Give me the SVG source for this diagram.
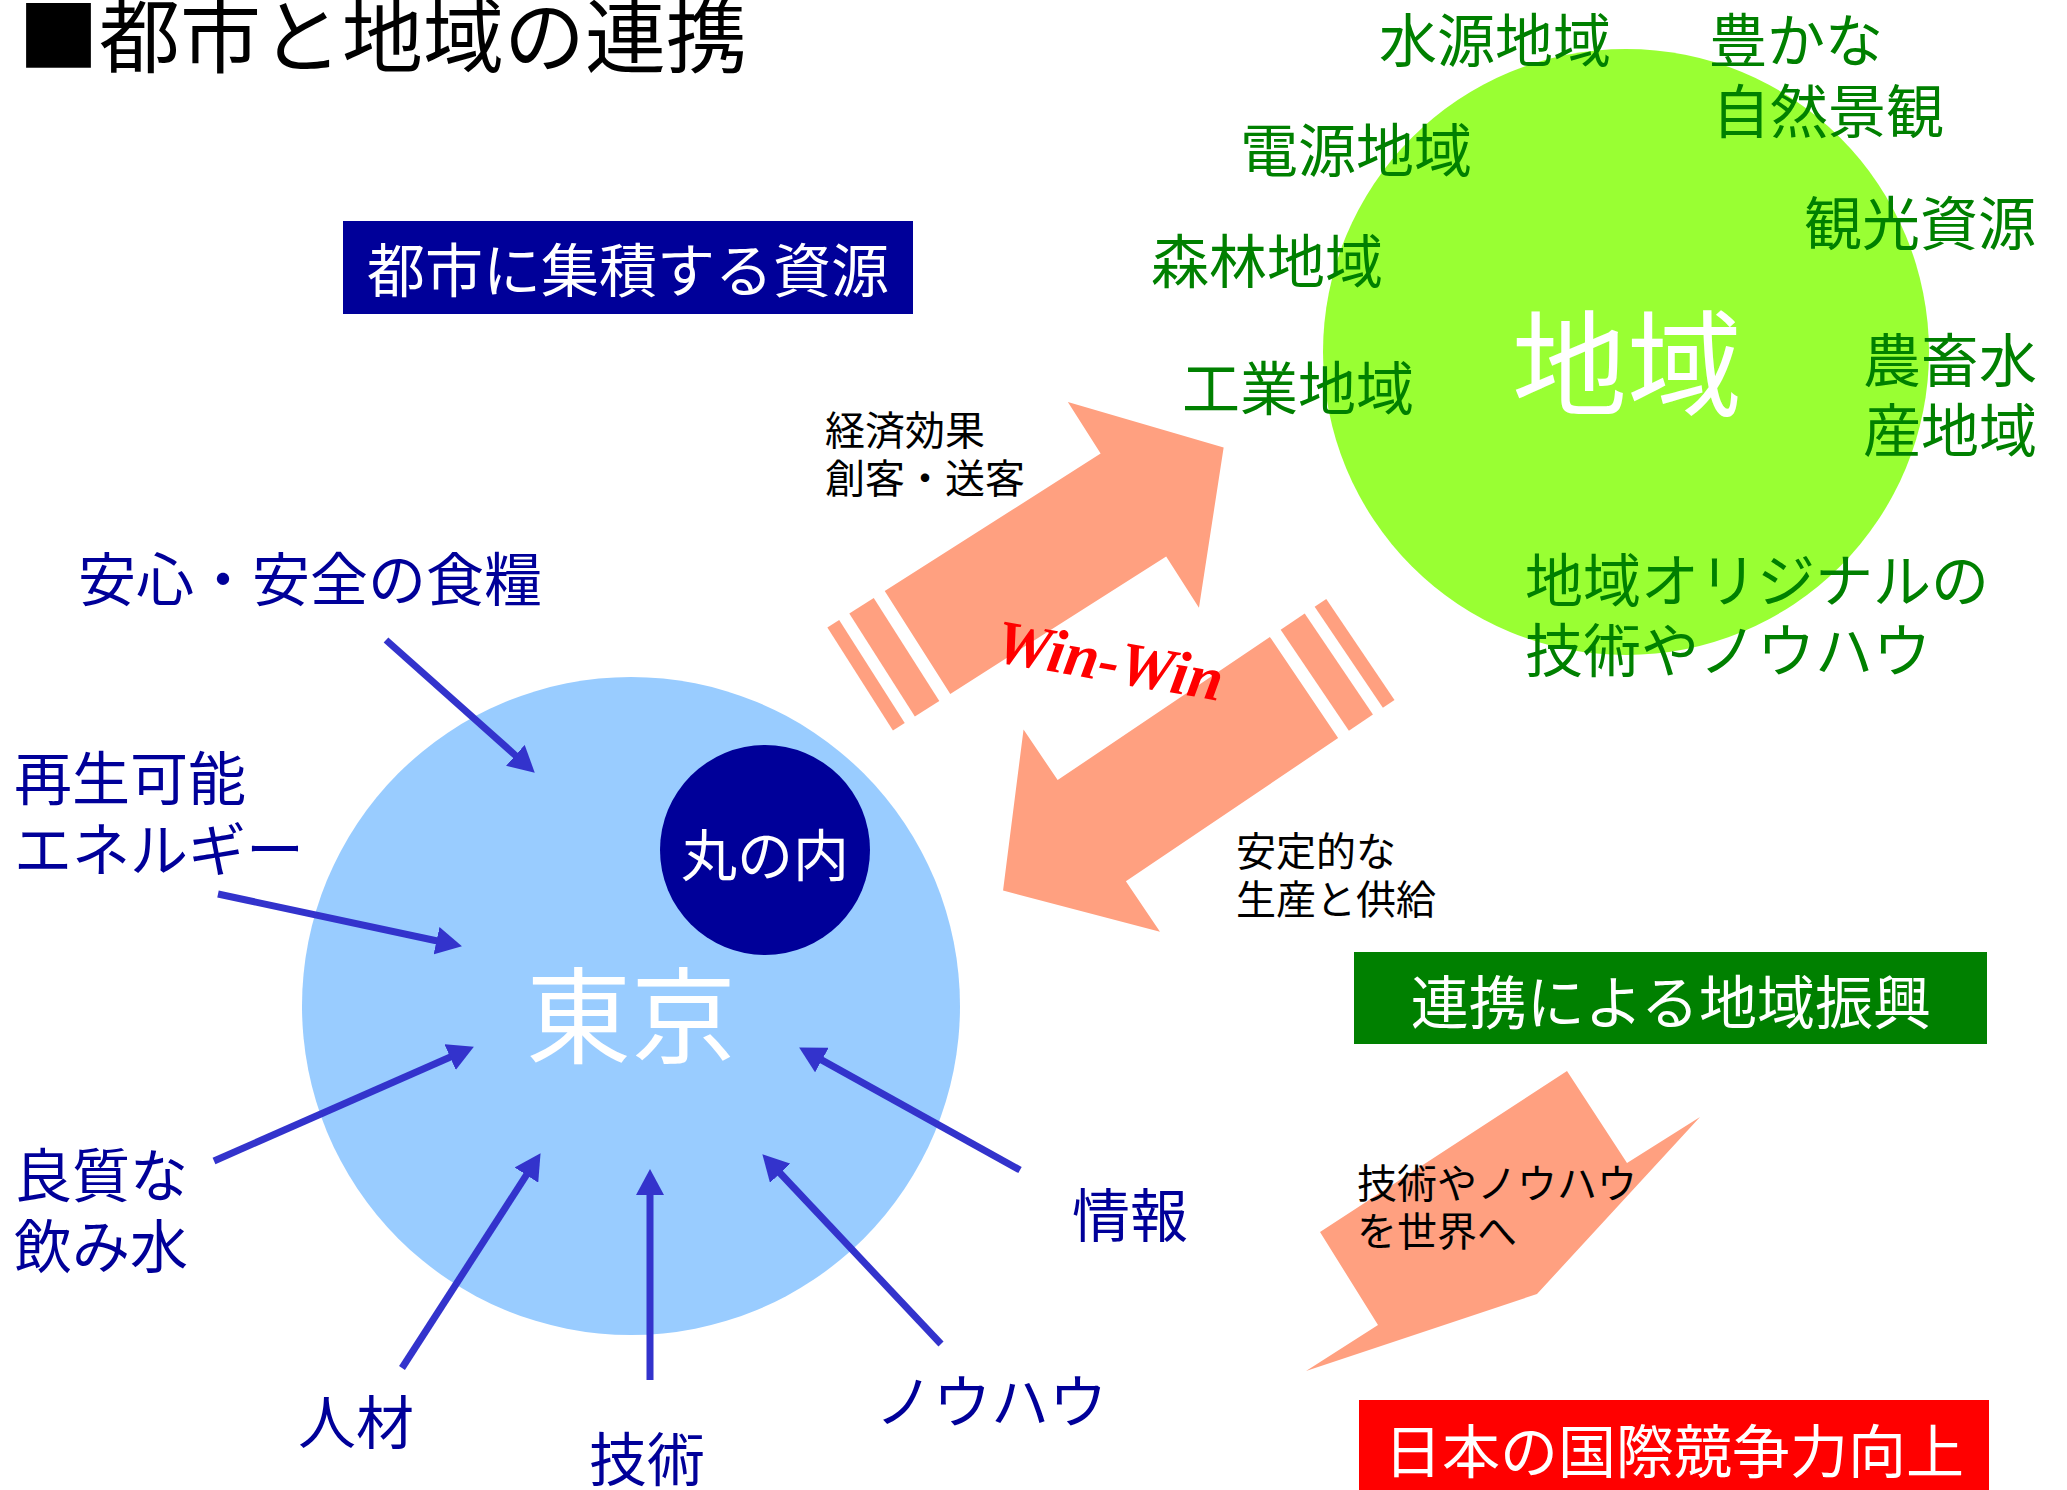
<svg xmlns="http://www.w3.org/2000/svg" width="2067" height="1490" viewBox="0 0 2067 1490">
<style>
text{font-family:"Noto Sans CJK JP","Noto Sans CJK SC",sans-serif}
.navy{fill:#000099;font-size:58px}
.grn{fill:#008000;font-size:58px}
.blk{fill:#000;font-size:40px}
.wht{fill:#fff}
.salmon{fill:#FFA080}
.arr{stroke:#3333CC;stroke-width:7;fill:none;marker-end:url(#ah)}
</style>
<defs>
<marker id="ah" markerUnits="userSpaceOnUse" viewBox="0 0 26 28" markerWidth="26" markerHeight="28" refX="1" refY="14" orient="auto">
<path d="M0,0 L26,14 L0,28 Z" fill="#3333CC"/>
</marker>
<g id="blockArrow">
<polygon points="0,-61 256,-61 256,-122 363,0 256,122 256,61 0,61"/>
<rect x="-42" y="-61" width="29" height="122"/>
<rect x="-68" y="-61" width="14" height="122"/>
</g>
</defs>
<rect width="2067" height="1490" fill="#fff"/>

<g id="title"><text x="18" y="66" font-size="81" fill="#000">■都市と地域の連携</text></g>

<g id="region">
<circle cx="1626" cy="352" r="303" fill="#99FF33"/>
<text class="wht" x="1627" y="407" font-size="115" text-anchor="middle">地域</text>
</g>

<g id="region-labels">
<text class="grn" x="1379" y="62">水源地域</text>
<text class="grn" x="1709" y="62">豊かな</text>
<text class="grn" x="1712" y="133">自然景観</text>
<text class="grn" x="1240" y="172">電源地域</text>
<text class="grn" x="1804" y="245">観光資源</text>
<text class="grn" x="1151" y="283">森林地域</text>
<text class="grn" x="1182" y="410">工業地域</text>
<text class="grn" x="1863" y="382">農畜水</text>
<text class="grn" x="1863" y="452">産地域</text>
<text class="grn" x="1525" y="602">地域オリジナルの</text>
<text class="grn" x="1525" y="672">技術やノウハウ</text>
</g>

<g id="resources-box">
<rect x="343" y="221" width="570" height="93" fill="#000099"/>
<text class="wht" x="628" y="292" font-size="58" text-anchor="middle">都市に集積する資源</text>
</g>

<g id="tokyo">
<circle cx="631" cy="1006" r="329" fill="#99CCFF"/>
<text class="wht" x="631" y="1055" font-size="105" text-anchor="middle">東京</text>
</g>
<g id="marunouchi">
<circle cx="765" cy="850" r="105" fill="#000099"/>
<text class="wht" x="765" y="876" font-size="56" text-anchor="middle">丸の内</text>
</g>

<g id="connectors">
<path class="arr" d="M386,640 L516.1,756"/>
<path class="arr" d="M218,894 L437.5,941"/>
<path class="arr" d="M214,1161 L451,1056.7"/>
<path class="arr" d="M402,1368 L527,1174.2"/>
<path class="arr" d="M650,1380 L650,1194"/>
<path class="arr" d="M941,1344 L779.5,1172.5"/>
<path class="arr" d="M1020,1170 L821,1059.6"/>
<use href="#blockArrow" class="salmon" transform="translate(917.5,642.5) rotate(-32.5)"/>
<use href="#blockArrow" class="salmon" transform="translate(1304,687.5) rotate(146)"/>
<polygon class="salmon" points="1320,1232 1567,1071 1627,1163 1700,1117 1537,1294 1306,1371 1378,1325"/>
</g>

<g id="tokyo-labels">
<text class="navy" x="78" y="601">安心・安全の食糧</text>
<text class="navy" x="14" y="800">再生可能</text>
<text class="navy" x="14" y="871">エネルギー</text>
<text class="navy" x="14" y="1197">良質な</text>
<text class="navy" x="14" y="1268">飲み水</text>
<text class="navy" x="298" y="1444">人材</text>
<text class="navy" x="589" y="1481">技術</text>
<text class="navy" x="875" y="1423">ノウハウ</text>
<text class="navy" x="1072" y="1237">情報</text>
</g>

<g id="flow-labels">
<text class="blk" x="825" y="445">経済効果</text>
<text class="blk" x="825" y="493">創客・送客</text>
<text class="blk" x="1236" y="866">安定的な</text>
<text class="blk" x="1236" y="914">生産と供給</text>
<text class="blk" x="1357" y="1198">技術やノウハウ</text>
<text class="blk" x="1357" y="1246">を世界へ</text>
<text x="1106" y="681" transform="rotate(10 1106 681)" text-anchor="middle" fill="#FF0000" font-size="62" font-weight="bold" font-style="italic" style="font-family:'Liberation Serif',serif">Win-Win</text>
</g>

<g id="promotion-box">
<rect x="1354" y="952" width="633" height="92" fill="#008000"/>
<text class="wht" x="1671" y="1024" font-size="58" text-anchor="middle">連携による地域振興</text>
</g>

<g id="competitiveness-box">
<rect x="1359" y="1400" width="630" height="90" fill="#FF0000"/>
<text class="wht" x="1674" y="1473" font-size="58" text-anchor="middle">日本の国際競争力向上</text>
</g>
</svg>
